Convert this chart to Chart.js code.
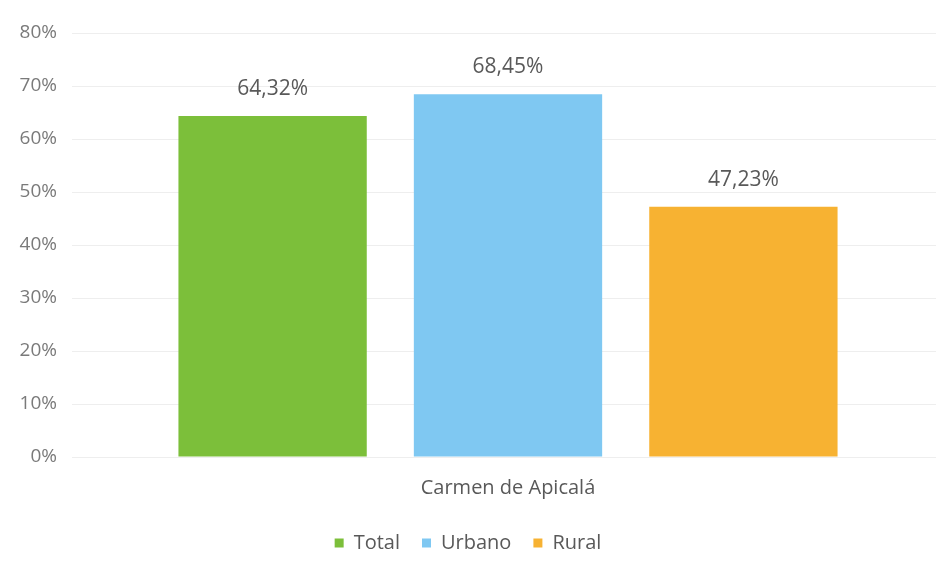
<!DOCTYPE html>
<html>
<head>
<meta charset="utf-8">
<script src="https://cdn.jsdelivr.net/npm/chart.js@4"></script>
<style>
  html, body { margin: 0; padding: 0; background: #fff; }
  #wrap { width: 948px; height: 575px; }
</style>
</head>
<body>
<div id="wrap"><canvas id="myChart"></canvas></div>
<script>
// Data
const categories = ["Carmen de Apicalá"];
const seriesNames = ["Total", "Urbano", "Rural"];
const totalValues = [64.32];
const urbanoValues = [68.45];
const ruralValues = [47.23];
const seriesColors = ["#7cbf3a", "#7fc8f2", "#f7b232"];

const fmt = v => v.toFixed(2).replace(".", ",") + "%";

// draw value labels above bars
const valueLabels = {
    id: "valueLabels",
    afterDatasetsDraw(chart) {
        const ctx = chart.ctx;
        ctx.save();
        ctx.font = "21px 'Open Sans', sans-serif";
        ctx.fillStyle = "#595959";
        ctx.textAlign = "center";
        ctx.textBaseline = "middle";
        chart.data.datasets.forEach((ds, i) => {
            chart.getDatasetMeta(i).data.forEach((bar, j) => {
                ctx.fillText(fmt(ds.data[j]), bar.x, bar.y - 27);
            });
        });
        ctx.restore();
    }
};

const ctx = document.getElementById("myChart").getContext("2d");
const chart = new Chart(ctx, {
    type: "bar",
    data: {
        labels: categories,
        datasets: [
            { label: seriesNames[0], data: totalValues, backgroundColor: seriesColors[0] },
            { label: seriesNames[1], data: urbanoValues, backgroundColor: seriesColors[1] },
            { label: seriesNames[2], data: ruralValues, backgroundColor: seriesColors[2] }
        ]
    },
    options: {
        responsive: true,
        maintainAspectRatio: false,
        animation: false,
        categoryPercentage: 0.825,
        barPercentage: 0.8,
        layout: { padding: { top: 33, right: 12, left: 0, bottom: 12 } },
        scales: {
            x: {
                grid: { display: false },
                border: { display: false },
                ticks: { color: "#595959", font: { size: 20, family: "'Open Sans', sans-serif" }, padding: 11 }
            },
            y: {
                min: 0,
                max: 80,
                afterFit(scale) { scale.width = 80; },
                grid: { color: "#eeeeee" },
                border: { display: false },
                ticks: {
                    stepSize: 10,
                    padding: 15,
                    color: "#7a7a7a",
                    font: { size: 19, family: "'Open Sans', sans-serif" },
                    callback: v => v + "%"
                }
            }
        },
        plugins: {
            legend: {
                position: "bottom",
                labels: {
                    boxWidth: 9,
                    boxHeight: 9,
                    padding: 22,
                    color: "#595959",
                    font: { size: 20, family: "'Open Sans', sans-serif" }
                }
            },
            tooltip: { enabled: false }
        }
    },
    plugins: [valueLabels]
});
</script>
</body>
</html>
